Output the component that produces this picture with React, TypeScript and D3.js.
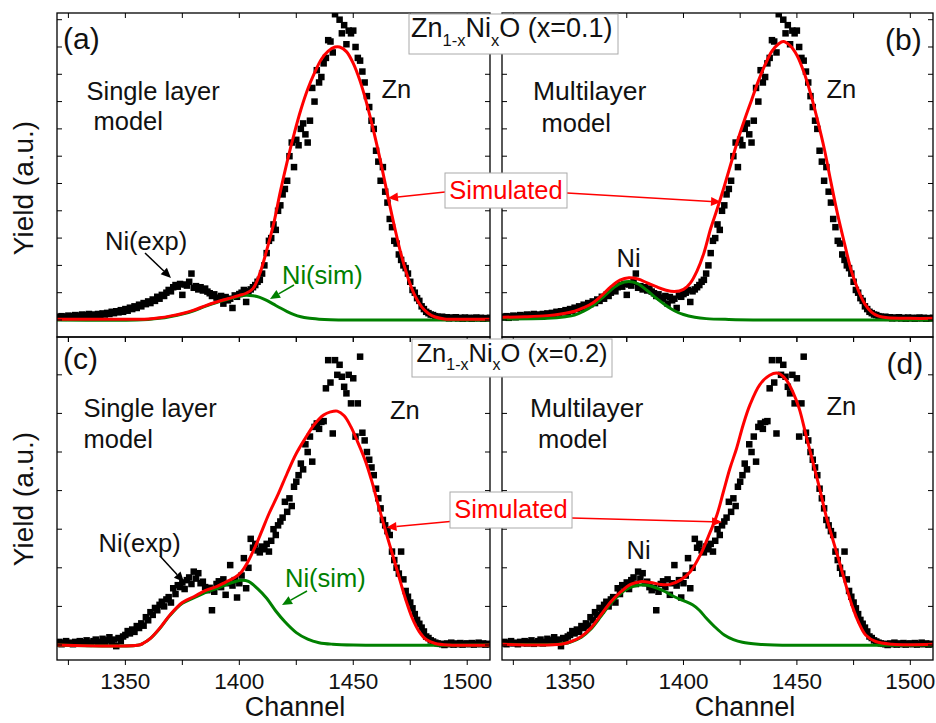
import * as d3 from "d3";

const FONT = "'Liberation Sans', Arial, Helvetica, sans-serif";
const RED = "#ff0000";
const GREEN = "#008000";

// channels of the RBS spectra (one point per channel)
const channels = d3.range(1320, 1511);

// experimental yield, Zn(1-x)Ni(x)O x=0.1 (panels a, b)
const yieldX01 = [
  0.012, 0.010, 0.014, 0.008, 0.012, 0.016, 0.010, 0.014, 0.018, 0.012,
  0.016, 0.020, 0.014, 0.018, 0.022, 0.016, 0.020, 0.015, 0.022, 0.018,
  0.024, 0.020, 0.026, 0.022, 0.030, 0.025, 0.032, 0.028, 0.036, 0.030,
  0.040, 0.034, 0.045, 0.040, 0.050, 0.044, 0.056, 0.050, 0.062, 0.058,
  0.068, 0.062, 0.075, 0.070, 0.085, 0.078, 0.092, 0.088, 0.100, 0.110,
  0.105, 0.120, 0.128, 0.122, 0.132, 0.092, 0.130, 0.126, 0.140, 0.170,
  0.118, 0.124, 0.112, 0.120, 0.108, 0.115, 0.104, 0.098, 0.088, 0.094,
  0.082, 0.078, 0.088, 0.060, 0.084, 0.072, 0.078, 0.044, 0.090, 0.085,
  0.095, 0.100, 0.110, 0.066, 0.105, 0.112, 0.120, 0.128, 0.140, 0.147,
  0.170, 0.200, 0.245, 0.290, 0.300, 0.350, 0.330, 0.400, 0.420, 0.460,
  0.480, 0.510, 0.600, 0.650, 0.560, 0.660, 0.640, 0.700, 0.720, 0.680,
  0.650, 0.730, 0.850, 0.800, 0.915, 0.870, 0.890, 0.940, 0.960, 1.025,
  1.020, 0.980, 1.120, 1.140, 1.100, 1.050, 1.080, 1.010, 1.060, 1.050,
  1.060, 1.000, 0.960, 0.950, 0.910, 0.870, 0.820, 0.780, 0.730, 0.700,
  0.620, 0.580, 0.510, 0.560, 0.470, 0.430, 0.370, 0.340, 0.290, 0.280,
  0.240, 0.220, 0.200, 0.190, 0.170, 0.140, 0.110, 0.100, 0.080, 0.070,
  0.050, 0.040, 0.030, 0.025, 0.020, 0.018, 0.014, 0.012, 0.010, 0.012,
  0.008, 0.010, 0.006, 0.009, 0.007, 0.010, 0.006, 0.008, 0.005, 0.009,
  0.006, 0.008, 0.005, 0.007, 0.009, 0.006, 0.008, 0.005, 0.007, 0.006, 0.008,
];

// experimental yield, x=0.2 (panels c, d)
const yieldX02 = [
  0.004, 0.008, 0.002, 0.006, 0.010, 0.004, 0.006, 0.002, 0.008, 0.005,
  0.010, 0.004, 0.007, 0.012, 0.003, 0.006, 0.010, 0.014, 0.004, 0.008,
  0.016, 0.006, 0.012, 0.020, 0.008, 0.014, -0.003, 0.018, 0.010, 0.022,
  0.026, 0.036, 0.030, 0.040, 0.034, 0.049, 0.044, 0.056, 0.050, 0.072,
  0.064, 0.085, 0.078, 0.096, 0.090, 0.104, 0.112, 0.100, 0.118, 0.124,
  0.110, 0.147, 0.132, 0.155, 0.150, 0.162, 0.145, 0.168, 0.175, 0.158,
  0.190, 0.172, 0.186, 0.160, 0.164, 0.150, 0.142, 0.148, 0.090, 0.138,
  0.158, 0.165, 0.150, 0.170, 0.130, 0.160, 0.207, 0.154, 0.168, 0.123,
  0.160, 0.180, 0.225, 0.147, 0.200, 0.275, 0.252, 0.262, 0.245, 0.240,
  0.255, 0.248, 0.262, 0.242, 0.270, 0.300, 0.285, 0.310, 0.320, 0.330,
  0.371, 0.345, 0.380, 0.360, 0.410, 0.423, 0.440, 0.470, 0.455, 0.520,
  0.500, 0.540, 0.475, 0.565, 0.574, 0.560, 0.578, 0.580, 0.665, 0.738,
  0.680, 0.548, 0.738, 0.700, 0.726, 0.695, 0.669, 0.652, 0.700, 0.626,
  0.691, 0.540, 0.626, 0.747, 0.550, 0.530, 0.500, 0.480, 0.460, 0.440,
  0.405, 0.380, 0.354, 0.324, 0.310, 0.295, 0.285, 0.242, 0.220, 0.200,
  0.185, 0.242, 0.170, 0.140, 0.125, 0.110, 0.095, 0.080, 0.065, 0.055,
  0.045, 0.035, 0.022, 0.018, 0.012, 0.009, 0.006, 0.004, 0.003, 0.002,
  0.000, 0.004, 0.002, 0.006, 0.001, 0.004, 0.002, 0.005, 0.001, 0.003,
  0.004, 0.002, 0.005, 0.001, 0.003, 0.006, 0.002, 0.004, 0.001, 0.003, 0.002,
];

// simulated curves [channel, yield]
const totalA: [number, number][] = [
  [1320, 0.003], [1340, 0.003], [1355, 0.003], [1360, 0.004], [1365, 0.008], [1370, 0.015],
  [1375, 0.024], [1380, 0.036], [1385, 0.052], [1390, 0.066], [1395, 0.078], [1400, 0.09],
  [1403, 0.098], [1406, 0.115], [1409, 0.17], [1412, 0.255], [1415, 0.35], [1418, 0.47],
  [1421, 0.58], [1424, 0.68], [1427, 0.77], [1430, 0.845], [1433, 0.905], [1436, 0.955],
  [1439, 0.985], [1442, 1.0], [1444, 1.0], [1447, 0.983], [1450, 0.94], [1453, 0.875],
  [1456, 0.79], [1459, 0.69], [1462, 0.58], [1465, 0.46], [1468, 0.345], [1471, 0.24],
  [1474, 0.155], [1477, 0.09], [1480, 0.048], [1483, 0.024], [1486, 0.011], [1490, 0.004],
  [1500, 0.003], [1510, 0.003],
];
const niA: [number, number][] = [
  [1320, 0], [1355, 0], [1360, 0.002], [1365, 0.006], [1370, 0.013], [1375, 0.022],
  [1380, 0.034], [1385, 0.05], [1390, 0.064], [1395, 0.076], [1400, 0.087], [1403, 0.091],
  [1406, 0.089], [1409, 0.083], [1412, 0.072], [1415, 0.058], [1418, 0.044], [1421, 0.031],
  [1424, 0.02], [1427, 0.012], [1430, 0.007], [1435, 0.003], [1440, 0.001], [1450, 0], [1510, 0],
];
const totalB: [number, number][] = [
  [1320, 0.01], [1330, 0.012], [1340, 0.016], [1346, 0.022], [1352, 0.032], [1356, 0.045],
  [1360, 0.062], [1364, 0.09], [1368, 0.122], [1372, 0.146], [1376, 0.155], [1380, 0.15],
  [1384, 0.136], [1388, 0.122], [1392, 0.11], [1396, 0.104], [1400, 0.112], [1403, 0.135],
  [1406, 0.18], [1409, 0.245], [1412, 0.335], [1415, 0.41], [1418, 0.49], [1421, 0.575],
  [1424, 0.66], [1427, 0.735], [1430, 0.805], [1433, 0.875], [1436, 0.935], [1439, 0.985],
  [1442, 1.012], [1444, 1.02], [1447, 1.005], [1450, 0.97], [1453, 0.91], [1456, 0.83],
  [1459, 0.735], [1462, 0.63], [1465, 0.505], [1468, 0.385], [1471, 0.28], [1474, 0.18],
  [1477, 0.11], [1480, 0.058], [1483, 0.028], [1486, 0.014], [1490, 0.008], [1500, 0.006],
  [1510, 0.006],
];
const niB: [number, number][] = [
  [1320, 0.004], [1340, 0.006], [1348, 0.012], [1352, 0.018], [1356, 0.032], [1360, 0.052],
  [1364, 0.08], [1368, 0.11], [1372, 0.133], [1376, 0.141], [1380, 0.132], [1384, 0.108],
  [1388, 0.08], [1392, 0.055], [1396, 0.034], [1400, 0.02], [1405, 0.01], [1410, 0.005],
  [1420, 0.002], [1440, 0], [1510, 0],
];
const totalC: [number, number][] = [
  [1320, 0], [1356, 0], [1358, 0.005], [1361, 0.017], [1365, 0.043], [1369.6, 0.078],
  [1375, 0.11], [1380, 0.125], [1385, 0.141], [1390, 0.151], [1394, 0.163], [1398, 0.175],
  [1401, 0.19], [1404, 0.218], [1407, 0.255], [1410, 0.297], [1413, 0.34], [1417, 0.39],
  [1421, 0.445], [1425, 0.496], [1429, 0.536], [1433, 0.572], [1437, 0.596], [1440, 0.604],
  [1443, 0.606], [1446, 0.594], [1449, 0.565], [1452, 0.525], [1455, 0.482], [1458, 0.427],
  [1461, 0.362], [1464, 0.299], [1467, 0.239], [1470, 0.178], [1473, 0.118], [1476, 0.068],
  [1479, 0.034], [1482, 0.014], [1486, 0.004], [1492, 0], [1510, 0],
];
const niC: [number, number][] = [
  [1320, 0], [1356, 0], [1358, 0.005], [1361, 0.017], [1365, 0.042], [1369.6, 0.077],
  [1375, 0.108], [1380, 0.122], [1385, 0.136], [1390, 0.146], [1394, 0.156], [1398, 0.164],
  [1401, 0.168], [1404, 0.165], [1408, 0.146], [1412, 0.121], [1416, 0.088], [1420, 0.06],
  [1425, 0.032], [1430, 0.015], [1435, 0.006], [1441, 0.002], [1450, 0], [1510, 0],
];
const totalD: [number, number][] = [
  [1320, 0.002], [1346, 0.002], [1350.5, 0.009], [1355, 0.022], [1359, 0.043], [1363.6, 0.078],
  [1368, 0.112], [1372.4, 0.138], [1376.7, 0.157], [1381, 0.164], [1385.5, 0.162], [1390, 0.157],
  [1394, 0.157], [1398.6, 0.168], [1403, 0.19], [1407.4, 0.233], [1411.8, 0.293], [1414.7, 0.336],
  [1417.6, 0.397], [1420.5, 0.458], [1423.4, 0.509], [1426.3, 0.57], [1429.3, 0.622], [1433.6, 0.674],
  [1438, 0.699], [1441.7, 0.704], [1445.3, 0.687], [1448.2, 0.656], [1451, 0.613], [1454, 0.544],
  [1457, 0.475], [1460, 0.406], [1462.8, 0.336], [1465.7, 0.276], [1468.7, 0.216], [1471.6, 0.155],
  [1474.5, 0.099], [1477.4, 0.056], [1480.3, 0.026], [1484.7, 0.009], [1492, 0.002], [1510, 0.002],
];
const niD: [number, number][] = [
  [1320, 0.002], [1345, 0.002], [1350, 0.007], [1355, 0.02], [1359, 0.04], [1363.6, 0.074],
  [1368, 0.108], [1372, 0.132], [1376, 0.148], [1380, 0.155], [1384, 0.155], [1388, 0.148],
  [1392, 0.138], [1396, 0.125], [1400, 0.115], [1404, 0.104], [1407, 0.09], [1410, 0.07],
  [1414, 0.046], [1418, 0.026], [1422, 0.014], [1426, 0.007], [1433, 0.002], [1440, 0], [1510, 0],
];

const xDomain: [number, number] = [1320, 1510];
const xTicks = d3.range(1325, 1501, 25);
const xTickLabels = [1350, 1400, 1450, 1500];

type PanelDef = {
  id: string;
  left: number; right: number; top: number; bottom: number;
  yDomain: [number, number];
  yMax: number;
  exp: number[];
  total: [number, number][];
  ni: [number, number][];
  tickLabels: boolean;
};

const panels: PanelDef[] = [
  { id: "a", left: 57, right: 490, top: 13, bottom: 337, yDomain: [-0.0623, 1.1245], yMax: 1.1, exp: yieldX01, total: totalA, ni: niA, tickLabels: false },
  { id: "b", left: 502, right: 933, top: 13, bottom: 337, yDomain: [-0.0623, 1.1245], yMax: 1.1, exp: yieldX01, total: totalB, ni: niB, tickLabels: false },
  { id: "c", left: 57, right: 490, top: 337, bottom: 660, yDomain: [-0.0389, 0.798], yMax: 0.75, exp: yieldX02, total: totalC, ni: niC, tickLabels: true },
  { id: "d", left: 502, right: 933, top: 337, bottom: 660, yDomain: [-0.0389, 0.798], yMax: 0.75, exp: yieldX02, total: totalD, ni: niD, tickLabels: true },
];

function Panel({ p }: { p: PanelDef }) {
  const x = d3.scaleLinear().domain(xDomain).range([p.left, p.right]);
  const y = d3.scaleLinear().domain(p.yDomain).range([p.bottom, p.top]);
  const line = d3
    .line<[number, number]>()
    .x((d) => x(d[0]))
    .y((d) => y(d[1]))
    .curve(d3.curveCatmullRom.alpha(0.5));
  const yTicks = d3.range(0, p.yMax + 0.001, 0.1);
  const clip = `clip-${p.id}`;
  const s = 6.5;
  return (
    <g>
      <defs>
        <clipPath id={clip}>
          <rect x={p.left} y={p.top} width={p.right - p.left} height={p.bottom - p.top} />
        </clipPath>
      </defs>
      <g clipPath={`url(#${clip})`}>
        {channels.map((c, i) => (
          <rect key={c} x={x(c) - s / 2} y={y(p.exp[i]) - s / 2} width={s} height={s} fill="#000" />
        ))}
        <path d={line(p.ni) || ""} fill="none" stroke={GREEN} strokeWidth={3} />
        <path d={line(p.total) || ""} fill="none" stroke={RED} strokeWidth={3} />
      </g>
      <rect x={p.left} y={p.top} width={p.right - p.left} height={p.bottom - p.top} fill="none" stroke="#000" strokeWidth={1.3} />
      <g stroke="#000" strokeWidth={1}>
        {xTicks.map((t) => (
          <g key={t}>
            <line x1={x(t)} x2={x(t)} y1={p.top} y2={p.top + 5} />
            <line x1={x(t)} x2={x(t)} y1={p.bottom} y2={p.bottom + 5} />
          </g>
        ))}
        {yTicks.map((t) => (
          <g key={t}>
            <line x1={p.left} x2={p.left + 5} y1={y(t)} y2={y(t)} />
            <line x1={p.right - 5} x2={p.right} y1={y(t)} y2={y(t)} />
          </g>
        ))}
      </g>
      {p.tickLabels &&
        xTickLabels.map((t) => (
          <text key={t} x={x(t)} y={689} textAnchor="middle" fontSize={22.5} fill="#111">
            {t}
          </text>
        ))}
    </g>
  );
}

function Arrow({ x1, y1, x2, y2, color, w = 1.5 }: { x1: number; y1: number; x2: number; y2: number; color: string; w?: number }) {
  const a = Math.atan2(y2 - y1, x2 - x1);
  const L = 10;
  const H = 4.5;
  const bx = x2 - L * Math.cos(a);
  const by = y2 - L * Math.sin(a);
  const pts = [
    [x2, y2],
    [bx - H * Math.sin(a), by + H * Math.cos(a)],
    [bx + H * Math.sin(a), by - H * Math.cos(a)],
  ]
    .map((q) => q.join(","))
    .join(" ");
  return (
    <g>
      <line x1={x1} y1={y1} x2={bx} y2={by} stroke={color} strokeWidth={w} />
      <polygon points={pts} fill={color} />
    </g>
  );
}

// annotation layout (pixel positions)
const notes = [
  { t: "(a)", x: 63, y: 48.5, size: 30 },
  { t: "(b)", x: 885, y: 50, size: 30 },
  { t: "(c)", x: 63, y: 369, size: 30 },
  { t: "(d)", x: 886.5, y: 374, size: 30 },
  { t: "Single layer", x: 86.5, y: 99.5 },
  { t: "model", x: 93.5, y: 130 },
  { t: "Zn", x: 381.5, y: 97.5 },
  { t: "Ni(exp)", x: 105, y: 250 },
  { t: "Ni(sim)", x: 282, y: 283.5, color: GREEN },
  { t: "Multilayer", x: 533, y: 100, size: 26.5 },
  { t: "model", x: 541.5, y: 131.5 },
  { t: "Zn", x: 826.5, y: 98 },
  { t: "Ni", x: 616.5, y: 266.5 },
  { t: "Single layer", x: 83.5, y: 416.5 },
  { t: "model", x: 83.5, y: 448 },
  { t: "Zn", x: 390, y: 419 },
  { t: "Ni(exp)", x: 98.5, y: 551.5 },
  { t: "Ni(sim)", x: 285, y: 586.5, color: GREEN },
  { t: "Multilayer", x: 530, y: 416.5, size: 26.5 },
  { t: "model", x: 538, y: 448 },
  { t: "Zn", x: 826.5, y: 415 },
  { t: "Ni", x: 626.5, y: 558.5 },
];

const arrows = [
  { x1: 145, y1: 253, x2: 171, y2: 278, color: "#000" },
  { x1: 294, y1: 285, x2: 270, y2: 299, color: GREEN },
  { x1: 445, y1: 192, x2: 388, y2: 198, color: RED },
  { x1: 567, y1: 193, x2: 721, y2: 202, color: RED },
  { x1: 160, y1: 556, x2: 184, y2: 582, color: "#000" },
  { x1: 307, y1: 591, x2: 282, y2: 605, color: GREEN },
  { x1: 450, y1: 521.5, x2: 386.5, y2: 527.5, color: RED },
  { x1: 572, y1: 518, x2: 722, y2: 522, color: RED },
];

function Formula({ x, y, size, sub, dy, tail }: { x: number; y: number; size: number; sub: number; dy: number; tail: string }) {
  return (
    <text x={x} y={y} fontSize={size} fill="#111">
      Zn
      <tspan fontSize={sub} dy={dy}>1-x</tspan>
      <tspan fontSize={size} dy={-dy}>Ni</tspan>
      <tspan fontSize={sub} dy={dy}>x</tspan>
      <tspan fontSize={size} dy={-dy}>{tail}</tspan>
    </text>
  );
}

export default function App() {
  const W = 936;
  const H = 723;
  return (
    <svg
      width={W}
      height={H}
      viewBox={`0 0 ${W} ${H}`}
      fontFamily={FONT}
      style={{ position: "absolute", left: 0, top: 0, background: "#fff" }}
    >
      <rect width={W} height={H} fill="#fff" />
      {panels.map((p) => (
        <Panel key={p.id} p={p} />
      ))}

      {/* axis titles */}
      <text transform="translate(32.5,188) rotate(-90)" textAnchor="middle" fontSize={28} fill="#111">
        Yield (a.u.)
      </text>
      <text transform="translate(32.5,499) rotate(-90)" textAnchor="middle" fontSize={28} fill="#111">
        Yield (a.u.)
      </text>
      <text x={295} y={716} textAnchor="middle" fontSize={27} fill="#111">Channel</text>
      <text x={745} y={716} textAnchor="middle" fontSize={27} fill="#111">Channel</text>

      {/* composition boxes */}
      <rect x={409} y={14} width={209} height={40} fill="#fff" stroke="#aaa" strokeWidth={1} />
      <Formula x={411} y={37} size={27} sub={16.5} dy={9} tail="O (x=0.1)" />
      <rect x={412} y={339} width={200} height={38} fill="#fff" stroke="#aaa" strokeWidth={1} />
      <Formula x={416.5} y={361.5} size={25.5} sub={16} dy={8.5} tail="O (x=0.2)" />

      {arrows.map((a, i) => (
        <Arrow key={i} {...a} />
      ))}

      {/* Simulated boxes */}
      <rect x={445} y={173} width={122} height={35} fill="#fff" stroke="#aaa" strokeWidth={1} />
      <text x={506} y={199} textAnchor="middle" fontSize={25.5} fill={RED}>Simulated</text>
      <rect x={450} y={492} width={122} height={36} fill="#fff" stroke="#aaa" strokeWidth={1} />
      <text x={511} y={518} textAnchor="middle" fontSize={25.5} fill={RED}>Simulated</text>

      {notes.map((n, i) => (
        <text key={i} x={n.x} y={n.y} fontSize={n.size || 25.5} fill={n.color || "#111"}>
          {n.t}
        </text>
      ))}
    </svg>
  );
}
